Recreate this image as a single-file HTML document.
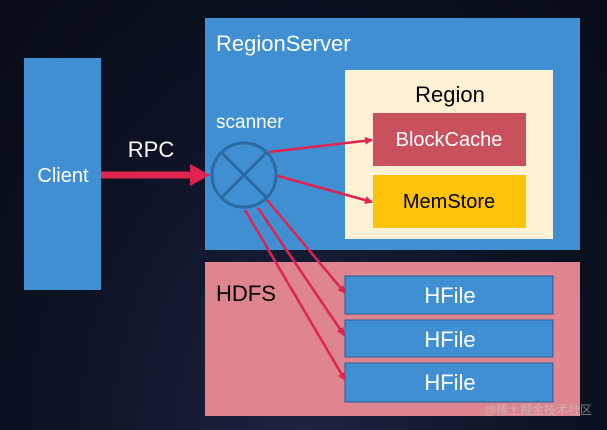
<!DOCTYPE html>
<html><head><meta charset="utf-8"><style>
body{margin:0;width:607px;height:430px;overflow:hidden;background:radial-gradient(ellipse at 50% 100%,#1c2440 0%,#0c1222 60%,#080c18 100%);font-family:"Liberation Sans","Noto Sans CJK SC",sans-serif;}
</style></head><body>
<svg width="607" height="430" xmlns="http://www.w3.org/2000/svg" style="position:absolute;left:0;top:0">
<defs>
<marker id="a" markerWidth="8" markerHeight="8" refX="7" refY="4" orient="auto" markerUnits="userSpaceOnUse"><path d="M0,0 L8,4 L0,8 z" fill="#e0234f"/></marker>
</defs>
<rect x="24" y="58" width="77" height="232" fill="#3f8fd2"/>
<text x="63" y="182" font-size="20" fill="#fff" text-anchor="middle">Client</text>
<rect x="205" y="18" width="375" height="232" fill="#3f8fd2"/>
<text x="216" y="51" font-size="22" fill="#fff">RegionServer</text>
<rect x="345" y="70" width="208" height="169" fill="#fff2d4"/>
<text x="450" y="102" font-size="22" fill="#000" text-anchor="middle">Region</text>
<rect x="373" y="113" width="153" height="53" fill="#c9505d"/>
<text x="449" y="146" font-size="20" fill="#fff" text-anchor="middle">BlockCache</text>
<rect x="373" y="175" width="153" height="53" fill="#fcc30a"/>
<text x="449" y="208" font-size="20" fill="#000" text-anchor="middle">MemStore</text>
<text x="216" y="128" font-size="19" fill="#fff">scanner</text>
<rect x="205" y="262" width="375" height="154" fill="#df858f"/>
<text x="216" y="301" font-size="22" fill="#000">HDFS</text>
<g fill="#3f8fd2" stroke="#2a5f95" stroke-width="1">
<rect x="345" y="276" width="208" height="38"/>
<rect x="345" y="320" width="208" height="37"/>
<rect x="345" y="363" width="208" height="39"/>
</g>
<g font-size="22" fill="#fff" text-anchor="middle">
<text x="450" y="303">HFile</text><text x="450" y="347">HFile</text><text x="450" y="390">HFile</text>
</g>
<text x="151" y="157" font-size="22" fill="#fff" text-anchor="middle">RPC</text>
<line x1="101" y1="175" x2="192" y2="175" stroke="#e0234f" stroke-width="7"/>
<path d="M190,164 L210,175 L190,186 z" fill="#e0234f"/>
<circle cx="244" cy="175" r="32" fill="none" stroke="#2a6aa3" stroke-width="3"/>
<line x1="221" y1="152" x2="267" y2="198" stroke="#2a6aa3" stroke-width="3"/>
<line x1="267" y1="152" x2="221" y2="198" stroke="#2a6aa3" stroke-width="3"/>
<g stroke="#e0234f" stroke-width="2.5" marker-end="url(#a)">
<line x1="269" y1="152" x2="372" y2="140"/>
<line x1="278" y1="176" x2="372" y2="202"/>
<line x1="267" y1="200" x2="345" y2="293"/>
<line x1="258" y1="208" x2="344" y2="335"/>
<line x1="245" y1="210" x2="345" y2="380"/>
</g>
<text x="592" y="414" font-size="12" fill="#c8c8c8" fill-opacity="0.6" text-anchor="end">@稀土掘金技术社区</text>
</svg>
</body></html>
